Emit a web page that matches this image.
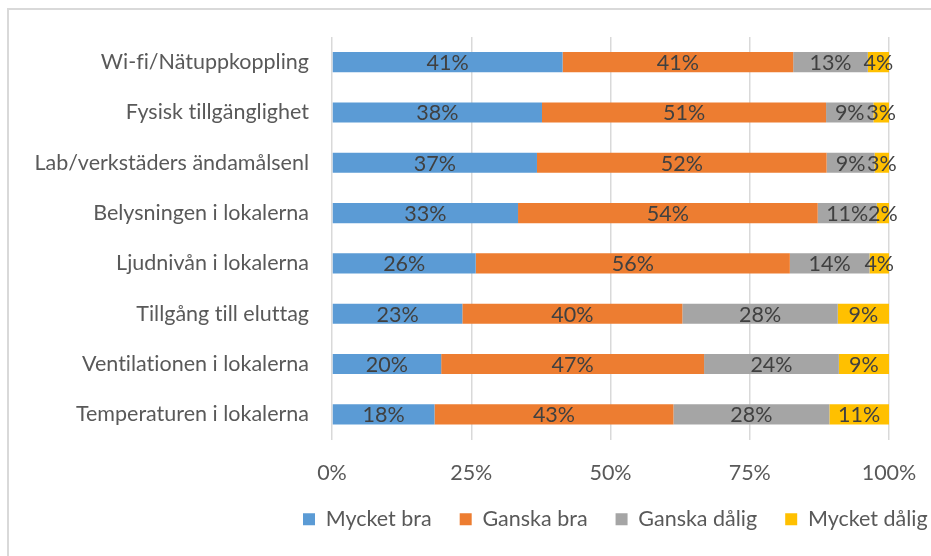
<!DOCTYPE html>
<html>
<head>
<meta charset="utf-8">
<script src="https://cdn.jsdelivr.net/npm/chart.js@4"></script>
<style>
  html, body { margin: 0; padding: 0; background: #fff; }
  #wrap { width: 931px; height: 556px; position: relative; }
</style>
</head>
<body>
<div id="wrap"><canvas id="myChart" width="931" height="556"></canvas></div>
<script>
// categories, top to bottom
const categories = [
    "Wi-fi/Nätuppkoppling",
    "Fysisk tillgänglighet",
    "Lab/verkstäders ändamålsenl",
    "Belysningen i lokalerna",
    "Ljudnivån i lokalerna",
    "Tillgång till eluttag",
    "Ventilationen i lokalerna",
    "Temperaturen i lokalerna",
];

// shares in percent
const mycketBra = [41.4, 37.7, 36.8, 33.4, 25.8, 23.4, 19.6, 18.4];
const ganskaBra = [41.4, 51.0, 52.0, 53.8, 56.4, 39.5, 47.2, 42.9];
const ganskaDalig = [13.4, 8.5, 8.6, 10.6, 14.3, 27.9, 24.2, 28.0];
const mycketDalig = [3.8, 2.8, 2.6, 2.2, 3.5, 9.2, 9.0, 10.7];

const xTicks = [0, 25, 50, 75, 100];

const FONT = "Lato";
const FONT_SIZE = 21.5;
const LEGEND_PAD = 28;

// Excel-ish frame: top and left edge only
const framePlugin = {
    id: "frame",
    beforeDraw(chart) {
        const ctx = chart.ctx;
        ctx.textRendering = "optimizeSpeed"; // no "fi" ligature
        ctx.save();
        ctx.strokeStyle = "#d9d9d9";
        ctx.lineWidth = 2;
        ctx.beginPath();
        ctx.moveTo(8, 560);
        ctx.lineTo(8, 9);
        ctx.lineTo(935, 9);
        ctx.stroke();
        ctx.restore();
    },
};

// legend sits under the plot, not under the whole canvas
const legendShift = {
    id: "legendShift",
    afterLayout(chart) {
        const lg = chart.legend;
        if (!lg) return;
        const w = lg.right - lg.left;
        lg.left = 303 - LEGEND_PAD;
        lg.right = lg.left + w;
    },
};

// value labels in the middle of each segment
const barLabels = {
    id: "barLabels",
    afterDatasetsDraw(chart) {
        const ctx = chart.ctx;
        ctx.save();
        ctx.font = FONT_SIZE + "px " + FONT;
        ctx.fillStyle = "#404040";
        ctx.textAlign = "center";
        ctx.textBaseline = "middle";
        chart.data.datasets.forEach((ds, i) => {
            const meta = chart.getDatasetMeta(i);
            meta.data.forEach((bar, j) => {
                const v = ds.data[j];
                const cx = (bar.x + bar.base) / 2;
                ctx.fillText(Math.round(v) + "%", cx, bar.y + 1);
            });
        });
        ctx.restore();
    },
};

const ctx = document.getElementById("myChart").getContext("2d");
new window.Chart(ctx, {
    type: "bar",
    data: {
        labels: categories,
        datasets: [
            { label: "Mycket bra", data: mycketBra, backgroundColor: "#5B9BD5" },
            { label: "Ganska bra", data: ganskaBra, backgroundColor: "#ED7D31" },
            { label: "Ganska dålig", data: ganskaDalig, backgroundColor: "#A5A5A5" },
            { label: "Mycket dålig", data: mycketDalig, backgroundColor: "#FFC000" },
        ],
    },
    plugins: [framePlugin, legendShift, barLabels],
    options: {
        indexAxis: "y",
        responsive: false,
        animation: false,
        devicePixelRatio: 1,
        datasets: {
            bar: { categoryPercentage: 1, barPercentage: 0.4, borderWidth: 0 },
        },
        layout: {
            padding: { left: 8, right: 42, top: 37, bottom: 16 },
        },
        plugins: {
            tooltip: { enabled: false },
            legend: {
                position: "bottom",
                align: "start",
                labels: {
                    boxWidth: 12,
                    boxHeight: 12,
                    padding: LEGEND_PAD,
                    color: "#595959",
                    font: { family: FONT, size: FONT_SIZE },
                },
            },
        },
        scales: {
            x: {
                stacked: true,
                min: 0,
                max: 100,
                afterBuildTicks: (scale) => {
                    scale.ticks = xTicks.map((v) => ({ value: v }));
                },
                afterFit: (scale) => {
                    scale.height = 41;
                    // labels may hang over the edge, layout padding covers it
                    scale.paddingLeft = 0;
                    scale.paddingRight = 0;
                },
                grid: { color: "#d9d9d9", lineWidth: 1.5, drawTicks: false },
                border: { display: false },
                ticks: {
                    padding: 21,
                    color: "#595959",
                    font: { family: FONT, size: FONT_SIZE },
                    callback: (v) => v + "%",
                },
            },
            y: {
                stacked: true,
                afterFit: (scale) => {
                    scale.width = 324;
                },
                grid: { display: false, drawTicks: false },
                border: { display: false },
                ticks: {
                    padding: 23,
                    color: "#595959",
                    font: { family: FONT, size: FONT_SIZE },
                },
            },
        },
    },
});
</script>
</body>
</html>
